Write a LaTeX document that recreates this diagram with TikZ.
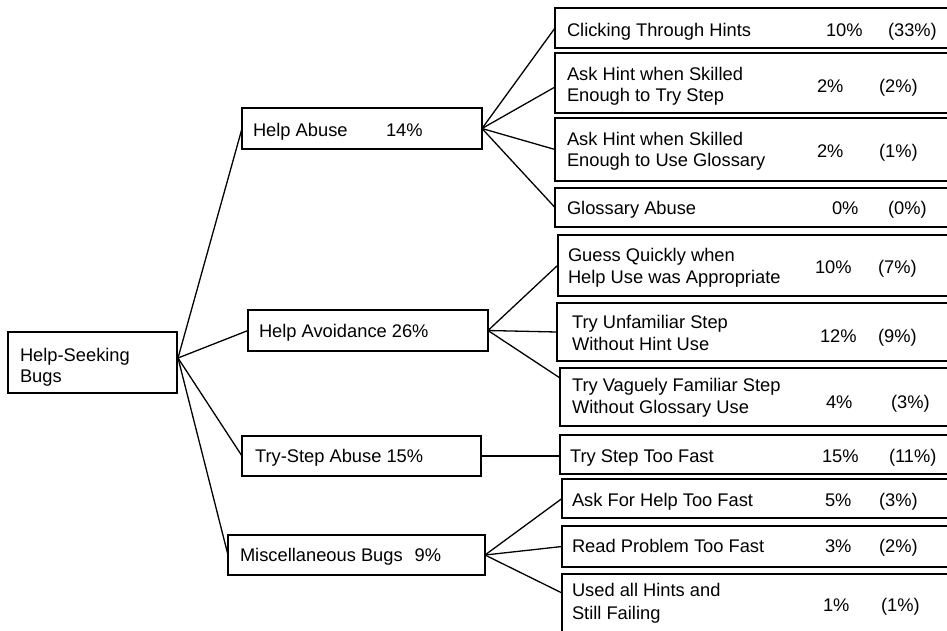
\documentclass[tikz,border=0pt]{standalone}
\usepackage{fontspec}
\setmainfont{Liberation Sans}
\tikzset{
 bx/.style={draw, line width=1.5pt, rectangle, inner sep=0pt, outer sep=0pt},
 txt/.style={anchor=west, inner sep=0pt, outer sep=0pt, text height=13pt, text depth=0pt, font=\fontsize{18.3}{22}\selectfont},
 cn/.style={line width=1.3pt},
}
\newcommand\mkbox[5]{\node[bx, minimum width={(#4-#2)*1pt}, minimum height={(#5-#3)*1pt}] (#1) at ({(#2+#4)/2},{(#3+#5)/2}) {};}
\newcommand\tx[4]{\node[txt] (#1) at (#2,#3) {#4};}
\begin{document}
\begin{tikzpicture}[x=1pt,y=-1pt]
\useasboundingbox (0,0) rectangle (947,630);
% left boxes
\mkbox{root}{8}{332}{177}{393}
\mkbox{ha}{242}{108}{482}{149}
\mkbox{hav}{248}{310}{488}{351}
\mkbox{tsa}{242}{436}{481}{476}
\mkbox{misc}{228}{535}{485}{575}
% right boxes
\mkbox{c1}{555}{8}{965}{48}
\mkbox{c2}{555}{53}{965}{113}
\mkbox{c3}{555}{118}{965}{181}
\mkbox{c4}{555}{188}{965}{227}
\mkbox{c5}{558}{235}{965}{296}
\mkbox{c6}{557}{303}{965}{361}
\mkbox{c7}{560}{368}{965}{426}
\mkbox{c8}{560}{435}{965}{474}
\mkbox{c9}{562}{479}{965}{518}
\mkbox{c10}{562}{526}{965}{567}
\mkbox{c11}{562}{574}{965}{660}
% texts
\tx{t0a}{20}{355}{Help-Seeking}
\tx{t0b}{20}{376}{Bugs}
\tx{tha}{253}{130}{Help Abuse}
\tx{thap}{386}{130}{14\%}
\tx{thav}{259}{331}{Help Avoidance 26\%}
\tx{ttsa}{255}{456}{Try-Step Abuse 15\%}
\tx{tmisc}{240}{555}{Miscellaneous Bugs\hspace{12pt}9\%}
%
\tx{t1}{567}{30}{Clicking Through Hints}
\tx{t1p}{826}{30}{10\%}
\tx{t1q}{888}{30}{(33\%)}
\tx{t2a}{567}{74}{Ask Hint when Skilled}
\tx{t2b}{567}{95}{Enough to Try Step}
\tx{t2p}{817}{86}{2\%}
\tx{t2q}{879}{86}{(2\%)}
\tx{t3a}{567}{139}{Ask Hint when Skilled}
\tx{t3b}{567}{160}{Enough to Use Glossary}
\tx{t3p}{817}{151}{2\%}
\tx{t3q}{879}{151}{(1\%)}
\tx{t4}{567}{208}{Glossary Abuse}
\tx{t4p}{832}{208}{0\%}
\tx{t4q}{888}{208}{(0\%)}
\tx{t5a}{568}{255}{Guess Quickly when}
\tx{t5b}{568}{277}{Help Use was Appropriate}
\tx{t5p}{815}{267}{10\%}
\tx{t5q}{878}{267}{(7\%)}
\tx{t6a}{572}{322}{Try Unfamiliar Step}
\tx{t6b}{572}{344}{Without Hint Use}
\tx{t6p}{820}{336}{12\%}
\tx{t6q}{878}{336}{(9\%)}
\tx{t7a}{572}{385}{Try Vaguely Familiar Step}
\tx{t7b}{572}{407}{Without Glossary Use}
\tx{t7p}{826}{402}{4\%}
\tx{t7q}{891}{402}{(3\%)}
\tx{t8}{570}{456}{Try Step Too Fast}
\tx{t8p}{822}{456}{15\%}
\tx{t8q}{889}{456}{(11\%)}
\tx{t9}{572}{500}{Ask For Help Too Fast}
\tx{t9p}{825}{500}{5\%}
\tx{t9q}{879}{500}{(3\%)}
\tx{t10}{572}{546}{Read Problem Too Fast}
\tx{t10p}{825}{546}{3\%}
\tx{t10q}{879}{546}{(2\%)}
\tx{t11a}{572}{590}{Used all Hints and}
\tx{t11b}{572}{613}{Still Failing}
\tx{t11p}{823}{605}{1\%}
\tx{t11q}{881}{605}{(1\%)}
% connectors
\coordinate (hub) at (178,358);
\coordinate (c2in) at (555,87);
\coordinate (c5in) at (558,265);
\coordinate (c7in) at (560,378);
\coordinate (c11in) at (562,593);
\coordinate (c8in) at (560,456);
\draw[cn] (hub) -- (ha.west);
\draw[cn] (hub) -- (hav.west);
\draw[cn] (hub) -- (tsa.west);
\draw[cn] (hub) -- (misc.west);
\draw[cn] (ha.east) -- (c1.west);
\draw[cn] (ha.east) -- (c2in);
\draw[cn] (ha.east) -- (c3.west);
\draw[cn] (ha.east) -- (c4.west);
\draw[cn] (hav.east) -- (c5in);
\draw[cn] (hav.east) -- (c6.west);
\draw[cn] (hav.east) -- (c7in);
\draw[cn] (tsa.east) -- (c8in);
\draw[cn] (misc.east) -- (c9.west);
\draw[cn] (misc.east) -- (c10.west);
\draw[cn] (misc.east) -- (c11in);
\end{tikzpicture}
\end{document}
